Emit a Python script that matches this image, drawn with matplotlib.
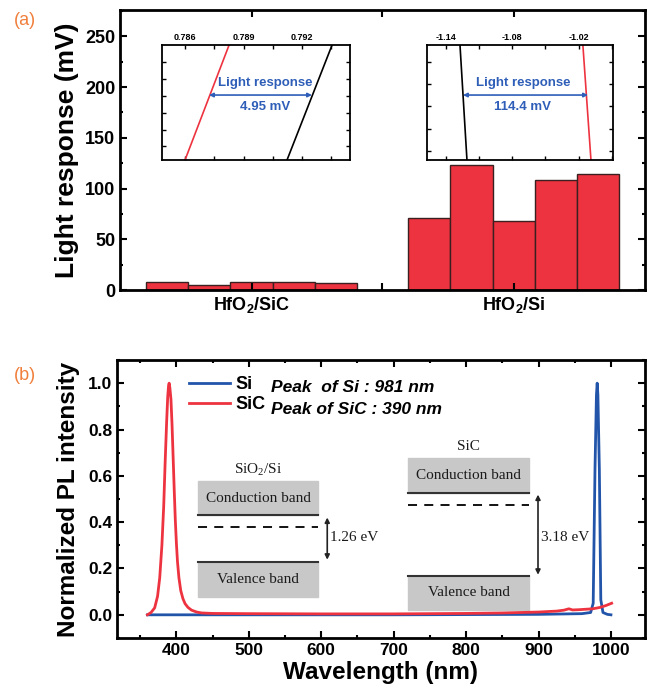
import numpy as np
import matplotlib
matplotlib.use('Agg')
from matplotlib import pyplot as plt
from matplotlib.patches import Rectangle

plt.rcParams['font.family'] = ['Liberation Sans', 'DejaVu Sans']
plt.rcParams['mathtext.fontset'] = 'custom'
plt.rcParams['mathtext.bf'] = 'Liberation Sans:bold'
plt.rcParams['mathtext.rm'] = 'Liberation Serif'
plt.rcParams['axes.unicode_minus'] = False

# ---- data, panel (a)
group_labels = ['HfO$_\\mathbf{2}$/SiC', 'HfO$_\\mathbf{2}$/Si']
sic_response = [7.9, 4.9, 7.5, 7.5, 6.5]
si_response = [70.5, 123, 68, 108, 114.5]

# insets: I-V crossing lines (x = voltage, y spans the inset)
inset1_xticks = [0.786, 0.789, 0.792]
inset1_red = [0.78600, 0.78826]
inset1_black = [0.79123, 0.79354]
inset1_arrow = [0.78723, 0.79251]
inset1_text = '4.95 mV'

inset2_xticks = [-1.14, -1.08, -1.02]
inset2_black = [-1.1209, -1.1272]
inset2_red = [-1.0089, -1.0162]
inset2_arrow = [-1.1245, -1.0116]
inset2_text = '114.4 mV'

# ---- data, panel (b)
sic_wl = [360, 365, 370, 374, 377, 380, 382.5, 384.5, 386.5, 388, 389.2, 390, 391,
          392.5, 394, 395.5, 397, 398.5, 400, 401.5, 403.5, 406, 409, 412, 416, 421,
          428, 435, 450, 500, 600, 700, 800, 850, 900, 912, 925, 935, 942, 947, 955,
          965, 975, 985, 993, 1001]
sic_pl = [0, 0.01, 0.03, 0.08, 0.16, 0.30, 0.47, 0.66, 0.83, 0.94, 0.99, 1.0, 0.98,
          0.93, 0.82, 0.68, 0.54, 0.41, 0.31, 0.23, 0.16, 0.105, 0.07, 0.048, 0.032,
          0.02, 0.012, 0.008, 0.006, 0.005, 0.004, 0.004, 0.006, 0.008, 0.012, 0.014,
          0.016, 0.02, 0.026, 0.021, 0.022, 0.024, 0.026, 0.032, 0.04, 0.05]
si_wl = [360, 500, 700, 900, 960, 972, 975.5, 978, 980, 981, 982, 984, 986, 989, 995, 1000]
si_pl = [0, 0, 0, 0.002, 0.005, 0.01, 0.05, 0.63, 0.95, 1.0, 0.95, 0.63, 0.065, 0.01,
         0.002, 0]

red = '#EE3340'
blue = '#2255AA'
txtblue = '#2E5EB8'
orange = '#F07F3C'

fig = plt.figure(figsize=(6.54, 7.0), dpi=100)


def style(ax):
    for s in ax.spines.values():
        s.set_linewidth(2)
    ax.tick_params(which='both', direction='in', top=True, right=True, width=1.5)
    ax.tick_params(which='major', length=5)
    ax.tick_params(which='minor', length=2.5)


# ================= (a)
ax1 = fig.add_axes([0.1835, 0.5857, 0.8027, 0.4])
centers = [3.116, 9.33]
for c, vals in zip(centers, [sic_response, si_response]):
    xs = c + np.arange(len(vals)) - 2
    ax1.bar(xs, vals, width=1.0, color=red, edgecolor='#3a2020', linewidth=1)
ax1.set_xlim(0, 12.44)
ax1.set_ylim(0, 276)
ax1.set_xticks(centers)
ax1.set_xticklabels(group_labels, fontsize=13, fontweight='bold')
ax1.set_xticks([6.22], minor=True)
ax1.set_yticks(np.arange(0, 251, 50))
ax1.set_yticks(np.arange(25, 276, 50), minor=True)
style(ax1)
ax1.tick_params(axis='x', which='minor', length=5)
ax1.tick_params(axis='y', labelsize=13)
for t in ax1.get_yticklabels():
    t.set_fontweight('bold')
ax1.set_ylabel('Light response (mV)', fontsize=19, fontweight='bold', labelpad=4)


def inset(rect, xticks, minor_step, ylim, l_black, l_red, arrow, label, tx):
    ax = fig.add_axes(rect)
    ax.plot(l_red, ylim, color=red, lw=1.2)
    ax.plot(l_black, ylim, color='black', lw=1.2)
    ax.set_ylim(*ylim)
    ax.set_xticks(xticks)
    ax.set_xticks([x + minor_step for x in xticks], minor=True)
    ax.set_yticks(np.arange(0, ylim[1], 1.0))
    ax.set_yticklabels([])
    for s in ax.spines.values():
        s.set_linewidth(1.3)
    ax.tick_params(which='both', direction='in', top=True, bottom=True, right=True,
                   labeltop=True, labelbottom=False, length=3, width=1, labelsize=6.5,
                   pad=2)
    for t in ax.get_xticklabels():
        t.set_fontweight('bold')
    ya = ylim[0] + 0.565 * (ylim[1] - ylim[0])
    ax.annotate('', xy=(arrow[0], ya), xytext=(arrow[1], ya),
                arrowprops=dict(arrowstyle='<|-|>', color=txtblue, lw=1.2,
                                mutation_scale=6, shrinkA=0, shrinkB=0))
    ax.text(tx, 0.67, 'Light response', transform=ax.transAxes, ha='center',
            va='center', color=txtblue, fontsize=9.5, fontweight='bold')
    ax.text(tx, 0.46, label, transform=ax.transAxes, ha='center', va='center',
            color=txtblue, fontsize=9.5, fontweight='bold')
    return ax


ins1 = inset([0.2477, 0.7714, 0.2875, 0.1643], inset1_xticks, 0.0015, (-0.8, 6.0),
             inset1_black, inset1_red, inset1_arrow, inset1_text, 0.548)
ins1.set_xlim(0.78482, 0.79446)
ins2 = inset([0.6529, 0.7714, 0.2844, 0.1643], inset2_xticks, 0.03, (-0.42, 4.78),
             inset2_black, inset2_red, inset2_arrow, inset2_text, 0.516)
ins2.set_xlim(-1.157, -0.989)

# ================= (b)
ax2 = fig.add_axes([0.1789, 0.0886, 0.8073, 0.3971])
ax2.plot(si_wl, si_pl, color=blue, lw=2, label='Si', zorder=3)
ax2.plot(sic_wl, sic_pl, color=red, lw=2, label='SiC', zorder=4)
ax2.set_xlim(318, 1047)
ax2.set_ylim(-0.1, 1.1)
ax2.set_xticks(np.arange(400, 1001, 100))
ax2.set_xticks(np.arange(350, 1050, 100), minor=True)
ax2.set_yticks(np.arange(0, 1.01, 0.2))
ax2.set_yticks(np.arange(-0.1, 1.11, 0.2), minor=True)
ax2.yaxis.set_major_formatter(matplotlib.ticker.FormatStrFormatter('%.1f'))
style(ax2)
ax2.tick_params(labelsize=12.5)
for t in ax2.get_xticklabels() + ax2.get_yticklabels():
    t.set_fontweight('bold')
ax2.set_xlabel('Wavelength (nm)', fontsize=17.5, fontweight='bold', labelpad=2)
ax2.set_ylabel('Normalized PL intensity', fontsize=17.5, fontweight='bold', labelpad=6)
leg = ax2.legend(loc='upper left', bbox_to_anchor=(0.105, 1.0), frameon=False,
                 prop={'weight': 'bold', 'size': 13}, handlelength=2.3,
                 handletextpad=0.3, labelspacing=0.15)
ax2.text(0.292, 0.9, 'Peak  of Si : 981 nm', transform=ax2.transAxes, fontsize=12.5,
         fontweight='bold', style='italic', va='center')
ax2.text(0.292, 0.822, 'Peak of SiC : 390 nm', transform=ax2.transAxes, fontsize=12.5,
         fontweight='bold', style='italic', va='center')

# band diagrams
bands = [
    # x0, x1, cb_top, cb, dashed, vb, vb_bot, name, y_name, x_arrow, gap, arrow ends
    (430.3, 595.9, 0.576, 0.43, 0.377, 0.229, 0.078, 'SiO$_\\mathrm{2}$/Si', 0.628,
     608.3, '1.26 eV', 0.42, 0.238),
    (720.0, 886.9, 0.675, 0.528, 0.472, 0.169, 0.022, 'SiC', 0.727,
     899.3, '3.18 eV', 0.519, 0.173),
]
serif = ['Liberation Serif', 'DejaVu Serif']
for (x0, x1, cbt, cb, dsh, vb, vbb, name, yn, xa, gap, a0, a1) in bands:
    ax2.add_patch(Rectangle((x0, cb), x1 - x0, cbt - cb, color='#C8C8C8', zorder=1))
    ax2.add_patch(Rectangle((x0, vbb), x1 - x0, vb - vbb, color='#C8C8C8', zorder=1))
    ax2.plot([x0, x1], [cb, cb], color='#333333', lw=1.5, zorder=2)
    ax2.plot([x0, x1], [vb, vb], color='#333333', lw=1.5, zorder=2)
    ax2.plot([x0, x1], [dsh, dsh], color='black', lw=1.3, ls=(0, (5, 4)), zorder=2)
    ax2.text((x0 + x1) / 2, (cb + cbt) / 2, 'Conduction band', family=serif,
             fontsize=11, ha='center', va='center', color='#1a1a1a')
    ax2.text((x0 + x1) / 2, (vb + vbb) / 2, 'Valence band', family=serif,
             fontsize=11, ha='center', va='center', color='#1a1a1a')
    ax2.text((x0 + x1) / 2, yn, name, family=serif, fontsize=11, ha='center',
             va='center', color='#1a1a1a')
    ax2.annotate('', xy=(xa, a0), xytext=(xa, a1),
                 arrowprops=dict(arrowstyle='<|-|>', color='#222222', lw=1.2,
                                 mutation_scale=7, shrinkA=0, shrinkB=0))
    ax2.text(xa + 4, 0.333, gap, family=serif, fontsize=11, ha='left', va='center',
             color='#1a1a1a')

fig.text(0.038, 0.971, '(a)', color=orange, fontsize=13, ha='center', va='center')
fig.text(0.038, 0.464, '(b)', color=orange, fontsize=13, ha='center', va='center')

fig.savefig('out.png', dpi=100)
